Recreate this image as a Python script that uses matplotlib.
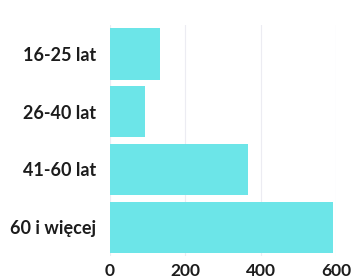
import matplotlib
matplotlib.use("Agg")
import matplotlib.pyplot as plt

# age groups and counts
groups = ["16-25 lat", "26-40 lat", "41-60 lat", "60 i więcej"]
counts = [132, 94, 367, 592]
xticks = [0, 200, 400, 600]

plt.rcParams['font.family'] = ['Lato', 'DejaVu Sans']

fig = plt.figure(figsize=(3.52, 2.79), dpi=100)
ax = fig.add_axes([0.3125, 0.082, 0.642, 0.828])

ax.barh(groups, counts, height=0.89, color="#6ce5e8", zorder=2)
ax.set_ylim(3.5, -0.5)
ax.set_xlim(0, 600)
ax.set_xticks(xticks)
ax.grid(axis="x", color="#ececf2", linewidth=0.8, zorder=0)

for s in ax.spines.values():
    s.set_visible(False)
ax.tick_params(axis="both", length=0, colors="#1c1c1c")
ax.tick_params(axis="y", pad=10, labelsize=13)
ax.tick_params(axis="x", pad=5, labelsize=12.5)
for lab in ax.get_xticklabels() + ax.get_yticklabels():
    lab.set_fontweight("bold")

fig.savefig("out.png", dpi=100)
